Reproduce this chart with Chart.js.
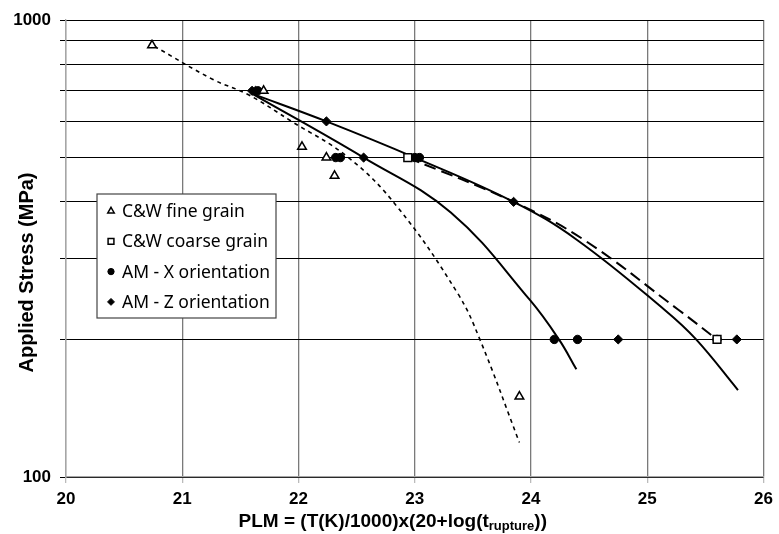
<!DOCTYPE html>
<html>
<head>
<meta charset="utf-8">
<script src="https://cdn.jsdelivr.net/npm/chart.js@4.4.1/dist/chart.umd.min.js"></script>
<style>
  body { margin: 0; background: #fff; }
  #wrap { width: 779px; height: 534px; }
</style>
</head>
<body>
<div id="wrap"><canvas id="plm"></canvas></div>
<script>
const fineGrainPlm = [20.74, 21.70, 22.03, 22.24, 22.31, 23.90];
const fineGrainStress = [880, 700, 528, 500, 456, 150];
const coarseGrainPlm = [22.94, 25.60];
const coarseGrainStress = [500, 200];
const amXPlm = [21.65, 22.32, 22.36, 23.00, 23.04, 24.20, 24.40, 25.60];
const amXStress = [700, 500, 500, 500, 500, 200, 200, 200];
const amZPlm = [21.60, 21.63, 22.24, 22.56, 23.85, 24.75, 25.77];
const amZStress = [700, 700, 600, 500, 400, 200, 200];

// trend curves
const fineFitPlm = [20.76, 21.26, 21.57, 21.94, 22.43, 22.85, 23.37, 23.56, 23.90];
const fineFitStress = [876, 742, 686, 600, 500, 390, 252, 200, 119];
const amXFitPlm = [21.60, 22.56, 23.31, 23.99, 24.24, 24.39];
const amXFitStress = [690, 500, 379, 244, 200, 172];
const amZFitPlm = [21.60, 22.24, 23.00, 23.85, 24.39, 25.15, 25.42, 25.78];
const amZFitStress = [690, 600, 500, 400, 331, 232, 200, 155];
const coarseFitPlm = [22.94, 23.85, 24.45, 25.27, 25.60];
const coarseFitStress = [500, 400, 331, 232, 200];

const xTicks = [20, 21, 22, 23, 24, 25, 26];
const yTicks = [100, 200, 300, 400, 500, 600, 700, 800, 900, 1000];
const yLabelled = [100, 1000];

const legendLabels = ['C&W fine grain', 'C&W coarse grain', 'AM - X orientation', 'AM - Z orientation'];

const toPoints = (xs, ys) => xs.map((x, i) => ({ x: x, y: ys[i] }));

const markerSet = (label, xs, ys, style, radius, filled) => ({
    label: label,
    data: toPoints(xs, ys),
    showLine: false,
    pointStyle: style,
    pointRadius: radius,
    pointBackgroundColor: filled ? '#000' : '#fff',
    pointBorderColor: '#000',
    pointBorderWidth: filled ? 1 : 1.5,
    inLegend: true
});

const curveSet = (xs, ys, width, dash) => ({
    data: toPoints(xs, ys),
    showLine: true,
    borderColor: '#000',
    borderWidth: width,
    borderDash: dash,
    pointRadius: 0,
    tension: 0.4,
    inLegend: false
});

/**
 * Legend drawn inside the plot, boxed, like the original
 */
const legendBox = {
    id: 'legendBox',
    afterDraw(chart) {
        const ctx = chart.ctx;
        const area = chart.chartArea;
        const x0 = area.left + 31, y0 = area.top + 174, w = 179, h = 124;
        ctx.save();
        ctx.fillStyle = '#fff';
        ctx.fillRect(x0, y0, w, h);
        ctx.strokeStyle = '#444';
        ctx.lineWidth = 1.2;
        ctx.strokeRect(x0, y0, w, h);

        const items = chart.data.datasets.filter(d => d.inLegend);
        items.forEach((d, i) => {
            const cy = y0 + 17 + i * 30.3;
            ctx.fillStyle = d.pointBackgroundColor;
            ctx.strokeStyle = d.pointBorderColor;
            ctx.lineWidth = d.pointBorderWidth;
            Chart.helpers.drawPoint(ctx, {
                pointStyle: d.pointStyle,
                radius: d.pointRadius * 0.75,
                borderWidth: d.pointBorderWidth,
                rotation: 0
            }, x0 + 14, cy);
            ctx.fillStyle = '#000';
            ctx.font = '17.5px "Noto Sans"';
            ctx.textBaseline = 'middle';
            ctx.textAlign = 'left';
            ctx.fillText(d.label, x0 + 25, cy + 1);
        });
        ctx.restore();
    }
};

/**
 * Axis titles: y rotated, x with the subscript on t
 */
const axisTitles = {
    id: 'axisTitles',
    afterDraw(chart) {
        const ctx = chart.ctx;
        const area = chart.chartArea;
        const main = 'PLM = (T(K)/1000)x(20+log(t';
        const sub = 'rupture';
        const tail = '))';
        const bigFont = 'bold 19px "Liberation Sans"';
        const smallFont = 'bold 13px "Liberation Sans"';
        ctx.save();
        ctx.fillStyle = '#000';
        ctx.textBaseline = 'alphabetic';
        ctx.textAlign = 'left';
        ctx.font = bigFont;
        const wMain = ctx.measureText(main).width;
        const wTail = ctx.measureText(tail).width;
        ctx.font = smallFont;
        const wSub = ctx.measureText(sub).width;
        let x = (area.left + area.right) / 2 - 22 - (wMain + wSub + wTail) / 2;
        const base = 527;
        ctx.font = bigFont;
        ctx.fillText(main, x, base);
        x += wMain;
        ctx.font = smallFont;
        ctx.fillText(sub, x, base + 3);
        x += wSub;
        ctx.font = bigFont;
        ctx.fillText(tail, x, base);

        ctx.translate(27, (area.top + area.bottom) / 2 + 24);
        ctx.rotate(-Math.PI / 2);
        ctx.textAlign = 'center';
        ctx.textBaseline = 'middle';
        ctx.font = 'bold 20px "Liberation Sans"';
        ctx.fillText('Applied Stress (MPa)', 0, 0);
        ctx.restore();
    }
};

const tickFont = { family: '"Liberation Sans"', size: 17, weight: 'bold' };

const chartConfig = {
    type: 'scatter',
    data: {
        datasets: [
            markerSet(legendLabels[0], fineGrainPlm, fineGrainStress, 'triangle', 5, false),
            markerSet(legendLabels[1], coarseGrainPlm, coarseGrainStress, 'rect', 5.5, false),
            markerSet(legendLabels[2], amXPlm, amXStress, 'circle', 4.2, true),
            markerSet(legendLabels[3], amZPlm, amZStress, 'rectRot', 4.6, true),
            curveSet(fineFitPlm, fineFitStress, 1.6, [4, 4]),
            curveSet(amXFitPlm, amXFitStress, 2, []),
            curveSet(amZFitPlm, amZFitStress, 2, []),
            curveSet(coarseFitPlm, coarseFitStress, 2, [12, 6])
        ]
    },
    options: {
        responsive: true,
        maintainAspectRatio: false,
        animation: false,
        layout: { padding: { left: 0, top: 20, right: 11, bottom: 0 } },
        plugins: {
            legend: { display: false },
            tooltip: { enabled: false }
        },
        scales: {
            x: {
                type: 'linear',
                min: 20,
                max: 26,
                afterBuildTicks: scale => { scale.ticks = xTicks.map(v => ({ value: v })); },
                afterFit: scale => { scale.height = 57; },
                ticks: { color: '#000', font: tickFont, padding: 6, maxRotation: 0 },
                grid: { color: '#7a7a7a', lineWidth: 1.3, tickLength: 6, tickColor: '#bbb' },
                border: { color: '#a6a6a6', width: 1.3 }
            },
            y: {
                type: 'logarithmic',
                min: 100,
                max: 1000,
                afterBuildTicks: scale => { scale.ticks = yTicks.map(v => ({ value: v })); },
                afterFit: scale => { scale.width = 66; },
                ticks: {
                    color: '#000',
                    font: tickFont,
                    padding: 9,
                    autoSkip: false,
                    callback: v => yLabelled.includes(v) ? String(v) : ''
                },
                grid: { color: '#000', lineWidth: 1, tickLength: 6, tickColor: '#000' },
                border: { color: '#a6a6a6', width: 1.3 }
            }
        }
    },
    plugins: [legendBox, axisTitles]
};

new Chart(document.getElementById('plm'), chartConfig);
</script>
</body>
</html>
